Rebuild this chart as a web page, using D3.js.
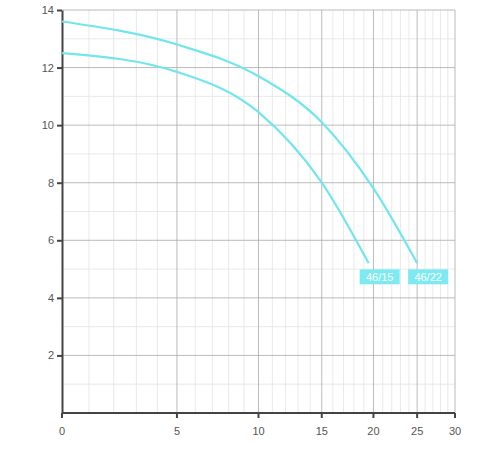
<!DOCTYPE html>
<html><head><meta charset="utf-8">
<script src="https://cdn.jsdelivr.net/npm/d3@7"></script>
<style>body{margin:0;background:#fff}</style>
</head><body><div id="chart"></div>
<script>
'use strict';
// axis ticks
const xTicks = [0, 5, 10, 15, 20, 25, 30];
const yTicks = [0, 2, 4, 6, 8, 10, 12, 14];
// curves
const curveNames = ['46/15', '46/22'];
const flow15 = [0, 5, 10, 15, 19.5];
const head15 = [12.5, 11.85, 10.45, 8.0, 5.2];
const flow22 = [0, 5, 10, 15, 20, 25];
const head22 = [13.6, 12.8, 11.7, 10.1, 7.8, 5.2];

const svg = d3.select('#chart').append('svg').attr('width', 500).attr('height', 450);

// flow axis is compressed towards the right: log of (flow + 10)
const xLog = d3.scaleLog().domain([10, 40]).range([62, 455]);
const x = v => xLog(v + 10);
const y = d3.scaleLinear().domain([0, 14]).range([413, 10]);

// minor grid
const minorX = d3.range(1, 30).filter(v => v % 5);
const minorY = d3.range(1, 14, 2);
svg.append('g').selectAll('line').data(minorX).join('line')
    .attr('x1', d => x(d)).attr('x2', d => x(d)).attr('y1', 10).attr('y2', 413)
    .attr('stroke', '#e3e3e3').attr('stroke-width', 0.8);
svg.append('g').selectAll('line').data(minorY).join('line')
    .attr('x1', 62).attr('x2', 455).attr('y1', d => y(d)).attr('y2', d => y(d))
    .attr('stroke', '#e3e3e3').attr('stroke-width', 0.8);
// major grid
svg.append('g').selectAll('line').data(xTicks.slice(1)).join('line')
    .attr('x1', d => x(d)).attr('x2', d => x(d)).attr('y1', 10).attr('y2', 413)
    .attr('stroke', '#aaa').attr('stroke-width', 0.8);
svg.append('g').selectAll('line').data(yTicks.slice(1)).join('line')
    .attr('x1', 62).attr('x2', 455).attr('y1', d => y(d)).attr('y2', d => y(d))
    .attr('stroke', '#aaa').attr('stroke-width', 0.8);

// axes
const xAxisScale = d3.scaleLinear().domain([0, 30]).range([62, 455]);
const xAxis = svg.append('g').attr('transform', 'translate(0,413)');
xAxis.append('line').attr('x1', 62).attr('x2', 455).attr('stroke', '#444').attr('stroke-width', 2);
const xt = xAxis.selectAll('g').data(xTicks).join('g').attr('transform', d => `translate(${x(d)},0)`);
xt.append('line').attr('y2', 5).attr('stroke', '#444').attr('stroke-width', 2);
xt.append('text').attr('y', 22).attr('text-anchor', 'middle').text(d => d);
const yAxis = svg.append('g').attr('transform', 'translate(62,0)')
    .call(d3.axisLeft(y).tickValues(yTicks.slice(1)).tickSize(5).tickSizeOuter(0));
yAxis.select('.domain').attr('stroke', '#444').attr('stroke-width', 2);
yAxis.selectAll('.tick line').attr('stroke', '#444').attr('stroke-width', 2);
svg.selectAll('text').attr('fill', '#555').style('font-family', 'Liberation Sans, Arial').style('font-size', '11px');

// curves
const line = d3.line().x(d => x(d[0])).y(d => y(d[1])).curve(d3.curveMonotoneX);
const series = [d3.zip(flow15, head15), d3.zip(flow22, head22)];
svg.append('g').selectAll('path').data(series).join('path')
    .attr('d', line).attr('fill', 'none').attr('stroke', '#72e6ec').attr('stroke-width', 2.2);

// labels
series.forEach((s, i) => {
    const last = s[s.length - 1];
    const g = svg.append('g').attr('transform', `translate(${x(last[0])},${y(last[1]) + 6})`);
    g.append('rect').attr('x', -9).attr('y', 0).attr('width', 40).attr('height', 15).attr('fill', '#7ceaf0');
    g.append('text').attr('x', 11).attr('y', 11.5).attr('text-anchor', 'middle')
        .attr('fill', '#fff').style('font-family', 'Liberation Sans, Arial').style('font-size', '11px')
        .text(curveNames[i]);
});
</script></body></html>
